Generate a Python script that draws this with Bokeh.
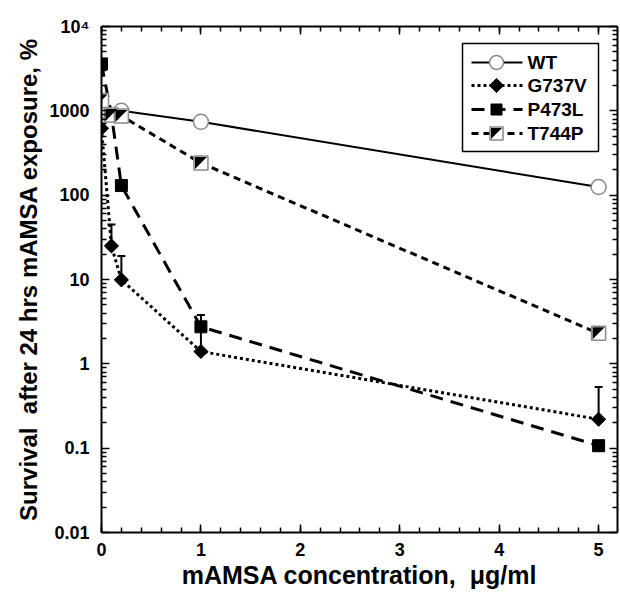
import math
from bokeh.plotting import figure
from bokeh.models import Range1d, LogAxis, LinearAxis, FixedTicker
from bokeh.core.properties import value
from bokeh.embed import file_html
from bokeh.resources import INLINE

# ---------------- data ----------------
conc_wt = [0, 0.2, 1, 5]
surv_wt = [1000, 1000, 740, 125]

conc_g = [0, 0.1, 0.2, 1, 5]
surv_g = [620, 25, 9.9, 1.4, 0.22]

conc_p = [0, 0.1, 0.2, 1, 5]
surv_p = [3600, 900, 130, 2.75, 0.107]

conc_t = [0, 0.1, 0.2, 1, 5]
surv_t = [1330, 890, 870, 240, 2.3]

# error bars (upper only)
wt_err_x = [1]
wt_err_lo = [740]
wt_err_hi = [880]
g_err_x = [0.1, 0.2, 1, 5]
g_err_lo = [25, 9.9, 1.4, 0.22]
g_err_hi = [45, 19, 2.6, 0.53]
p_err_x = [1]
p_err_lo = [2.75]
p_err_hi = [3.8]

x_ticks = [0, 1, 2, 3, 4, 5]
x_minor = [i * 0.2 for i in range(0, 26)]
y_ticks = [0.01, 0.1, 1, 10, 100, 1000, 10000]
y_labels = {0.01: "0.01", 0.1: "0.1", 1: "1", 10: "10", 100: "100",
            1000: "1000", 10000: "10\u2074"}
y_minor = [m * 10.0 ** k for k in range(-2, 4) for m in range(2, 10)]

labels = ["WT", "G737V", "P473L", "T744P"]

# ---------------- layout ----------------
W, H = 620, 596
FL, FR, FT, FB = 101, 617, 26, 532   # frame edges within figure
XMAX = 5.19
FONT = "Liberation Sans"

p = figure(width=W, height=H, x_range=Range1d(0, XMAX),
           y_range=Range1d(0.01, 10000), y_axis_type="log",
           output_backend="svg", toolbar_location=None,
           min_border_left=FL, min_border_right=W - FR,
           min_border_top=FT, min_border_bottom=H - FB)
p.grid.visible = False
p.outline_line_color = None
p.background_fill_color = "white"
p.border_fill_color = "white"

top = LinearAxis()
right = LogAxis()
p.add_layout(top, "above")
p.add_layout(right, "right")

xb = p.below[0]
yl = p.left[0]
for ax in (xb, top):
    ax.ticker = FixedTicker(ticks=x_ticks, minor_ticks=x_minor)
for ax in (yl, right):
    ax.ticker = FixedTicker(ticks=y_ticks, minor_ticks=y_minor)
for ax in (xb, yl, top, right):
    ax.axis_line_width = 2
    ax.axis_line_color = "black"
    ax.major_tick_in = 8
    ax.major_tick_out = 0
    ax.minor_tick_in = 5
    ax.minor_tick_out = 0
    ax.major_tick_line_width = 1.5
    ax.minor_tick_line_width = 1.5
    ax.major_tick_line_color = "black"
    ax.minor_tick_line_color = "black"
    ax.major_label_text_font = FONT
    ax.major_label_text_font_style = "bold"
    ax.major_label_text_font_size = "18px"
    ax.major_label_text_color = "black"
for ax in (top, right):
    ax.major_label_text_font_size = "1px"
    ax.major_label_text_color = None
    ax.major_label_standoff = 0

yl.major_label_overrides = y_labels
xb.major_label_standoff = 10
yl.major_label_standoff = 12
xb.axis_label = "mAMSA concentration,\u00a0 \u03bcg/ml"
yl.axis_label = "Survival\u00a0 after 24 hrs mAMSA exposure, %"
for ax in (xb, yl):
    ax.axis_label_text_font = FONT
    ax.axis_label_text_font_style = "bold"
    ax.axis_label_text_color = "black"
xb.axis_label_text_font_size = "25px"
yl.axis_label_text_font_size = "24px"
xb.axis_label_standoff = 2
yl.axis_label_standoff = 4

px_per_x = (FR - FL) / XMAX
px_per_dec = (FB - FT) / 6.0


def px2x(px):
    return (px - FL) / px_per_x


def py2y(py):
    return 10 ** (4 - (py - FT) / px_per_dec)


# ---------------- styles ----------------
GRAY = "#8a8a8a"
LINE_STYLES = [dict(line_width=2),
               dict(line_width=3, line_dash="3 3"),
               dict(line_width=3, line_dash="13 8"),
               dict(line_width=3, line_dash="7 5")]
WT_STYLE = dict(marker="circle", size=15, fill_color="white",
                line_color=GRAY, line_width=1.5)
G_STYLE = dict(marker="square", size=10, angle=math.pi / 4,
               fill_color="black", line_color="black")
P_STYLE = dict(marker="square", size=12, fill_color="black",
               line_color="black")
T_STYLE = dict(marker="square", size=14, fill_color="white",
               line_color=GRAY, line_width=1.5)

# ---------------- series ----------------
for cx, sy, ls in zip((conc_wt, conc_g, conc_p, conc_t),
                      (surv_wt, surv_g, surv_p, surv_t), LINE_STYLES):
    p.line(cx, sy, line_color="black", **ls)

for ex, elo, ehi in ((wt_err_x, wt_err_lo, wt_err_hi),
                     (g_err_x, g_err_lo, g_err_hi),
                     (p_err_x, p_err_lo, p_err_hi)):
    p.segment(x0=ex, y0=elo, x1=ex, y1=ehi, line_color="black", line_width=2)
    p.scatter(ex, ehi, marker="dash", size=8, line_color="black",
              line_width=2)

p.scatter(conc_wt, surv_wt, **WT_STYLE)
p.scatter(conc_g, surv_g, **G_STYLE)
p.scatter(conc_p, surv_p, **P_STYLE)
p.scatter(conc_t, surv_t, **T_STYLE)

# black upper-left half of the T744P squares
half = 6.0
dx = half / px_per_x
f = 10 ** (half / px_per_dec)
tri_xs = [[x - dx, x + dx, x - dx] for x in conc_t]
tri_ys = [[y * f, y * f, y / f] for y in surv_t]
p.patches(tri_xs, tri_ys, fill_color="black", line_color=None)

# ---------------- legend (hand-built) ----------------
BOX_L, BOX_R, BOX_T, BOX_B = 462, 598, 43, 151   # figure px
ROWS = [62, 85, 109, 133]
LINE_L, LINE_R, MARK_X, TEXT_X = 471, 522, 496, 527

p.quad(left=[px2x(BOX_L)], right=[px2x(BOX_R)], top=[py2y(BOX_T)],
       bottom=[py2y(BOX_B)], fill_color="white", line_color="black",
       line_width=1.5)
for ry, ls in zip(ROWS, LINE_STYLES):
    p.line([px2x(LINE_L), px2x(LINE_R)], [py2y(ry), py2y(ry)],
           line_color="black", **ls)
mark_styles = (dict(WT_STYLE, size=14), G_STYLE, dict(P_STYLE, size=11),
               dict(T_STYLE, size=13))
for style, ry in zip(mark_styles, ROWS):
    p.scatter([px2x(MARK_X)], [py2y(ry)], **style)
lh = 5.5
p.patch([px2x(MARK_X - lh), px2x(MARK_X + lh), px2x(MARK_X - lh)],
        [py2y(ROWS[3] - lh), py2y(ROWS[3] - lh), py2y(ROWS[3] + lh)],
        fill_color="black", line_color=None)
p.text(x=[px2x(TEXT_X)] * 4, y=[py2y(r) for r in ROWS], text=labels,
       text_font=value(FONT), text_font_style="bold",
       text_font_size="19px", text_color="black", text_baseline="middle",
       text_align="left")

open("out.html", "w").write(file_html(p, INLINE))
